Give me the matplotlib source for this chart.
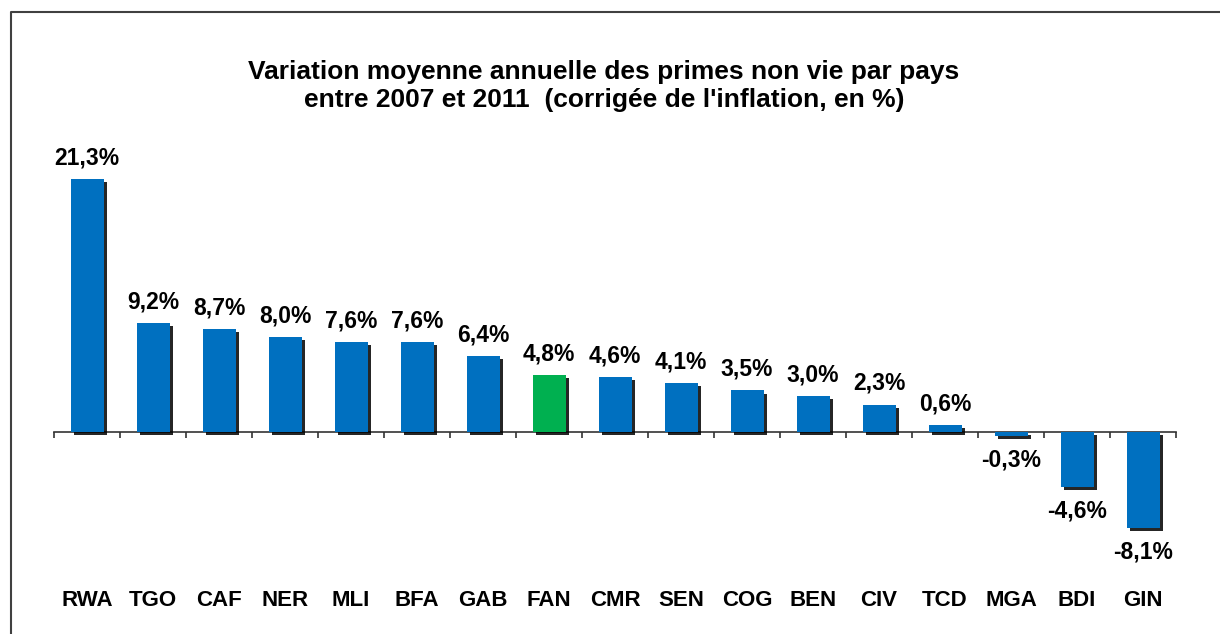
import matplotlib
matplotlib.use("Agg")
import matplotlib.pyplot as plt
import matplotlib.patheffects as pe
from matplotlib.lines import Line2D
import numpy as np

plt.rcParams['font.family'] = ['Liberation Sans', 'DejaVu Sans']

countries = ["RWA", "TGO", "CAF", "NER", "MLI", "BFA", "GAB", "FAN", "CMR",
             "SEN", "COG", "BEN", "CIV", "TCD", "MGA", "BDI", "GIN"]
values = [21.3, 9.2, 8.7, 8.0, 7.6, 7.6, 6.4, 4.8, 4.6,
          4.1, 3.5, 3.0, 2.3, 0.6, -0.3, -4.6, -8.1]
highlight = "FAN"

title = ("Variation moyenne annuelle des primes non vie par pays\n"
         "entre 2007 et 2011  (corrigée de l'inflation, en %)")

blue = "#0070C0"
green = "#00B050"

W, H = 1220, 634
fig = plt.figure(figsize=(W / 100, H / 100), dpi=100)
fig.patch.set_facecolor("white")

# plot area placed by pixels
ymin, ymax = -10, 24
px_per_unit = 11.87
zero_px = 432
bottom_px = zero_px + (0 - ymin) * px_per_unit
height_px = (ymax - ymin) * px_per_unit
ax = fig.add_axes([54 / W, (H - bottom_px) / H, 1122 / W, height_px / H])

x = np.arange(len(countries))
colors = [green if c == highlight else blue for c in countries]
bars = ax.bar(x, values, width=0.5, color=colors, zorder=3)
for b in bars:
    b.set_path_effects([pe.SimplePatchShadow(offset=(2.2, -2.2), shadow_rgbFace="black", alpha=0.85),
                        pe.Normal()])

ax.set_xlim(-0.5, len(countries) - 0.5)
ax.set_ylim(ymin, ymax)

for s in ["left", "right", "top"]:
    ax.spines[s].set_visible(False)
ax.spines["bottom"].set_position(("data", 0))
ax.spines["bottom"].set_color("#333333")
ax.spines["bottom"].set_linewidth(1.2)
ax.set_yticks([])
ax.set_xticks(np.arange(-0.5, len(countries), 1.0))
ax.tick_params(axis="x", direction="out", length=4, width=1.2, color="#333333",
               labelbottom=False)

for xi, v in zip(x, values):
    label = f"{v:.1f}%".replace(".", ",")
    if v >= 0:
        ax.annotate(label, (xi, v), xytext=(0, 7), textcoords="offset points",
                    ha="center", va="bottom", fontsize=16.5, fontweight="bold")
    else:
        ax.annotate(label, (xi, v), xytext=(0, -9), textcoords="offset points",
                    ha="center", va="top", fontsize=16.5, fontweight="bold")

for xi, c in zip(x, countries):
    ax.text(xi, (bottom_px - 601) / height_px, c, transform=ax.get_xaxis_transform(),
            ha="center", va="center", fontsize=16, fontweight="bold")

fig.text(604 / W, 1 - 86 / H, title, ha="center", va="center", fontsize=19,
         fontweight="bold", linespacing=1.2)

# chart border (left and top edges visible)
fig.add_artist(Line2D([11 / W, 11 / W, 1.0], [0.0, 1 - 12 / H, 1 - 12 / H],
                      transform=fig.transFigure, color="#404040", linewidth=1.5))

fig.savefig("out.png", dpi=100, facecolor="white")
